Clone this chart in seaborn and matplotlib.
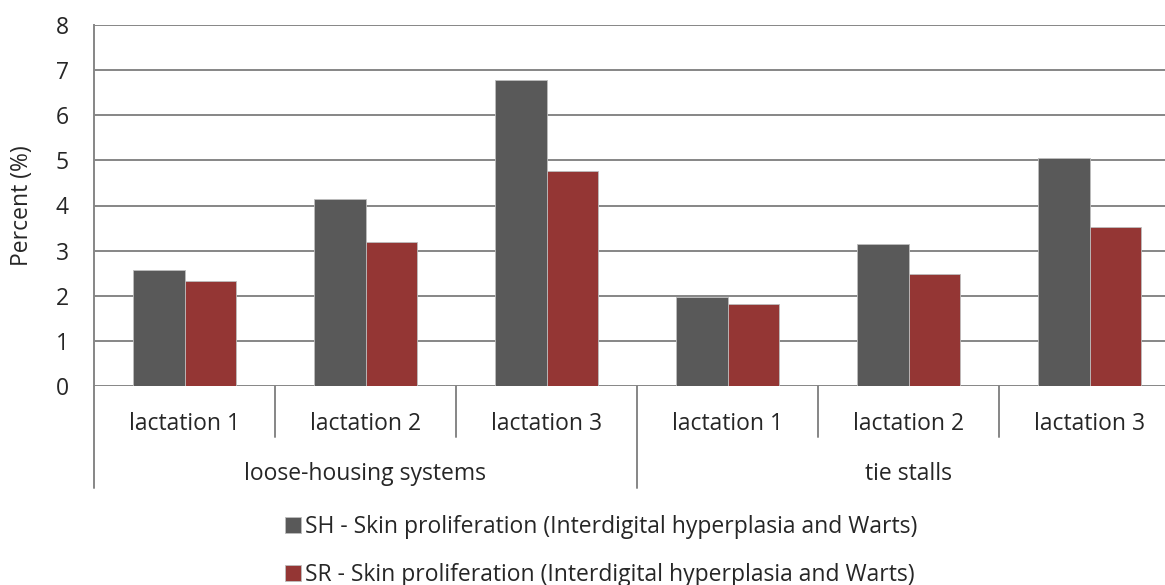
import pandas as pd
import matplotlib.pyplot as plt
import seaborn as sns

# data
housing = ['loose-housing systems', 'tie stalls']
lactations = ['lactation 1', 'lactation 2', 'lactation 3']
series = ['SH - Skin proliferation (Interdigital hyperplasia and Warts)',
          'SR - Skin proliferation (Interdigital hyperplasia and Warts)']
sh_values = [2.57, 4.15, 6.78, 1.97, 3.15, 5.05]
sr_values = [2.33, 3.19, 4.77, 1.82, 2.48, 3.52]

rows = []
for i, h in enumerate(housing):
    for j, lac in enumerate(lactations):
        k = i * 3 + j
        key = f'{h}|{lac}'
        rows.append({'cat': key, 'series': series[0], 'value': sh_values[k]})
        rows.append({'cat': key, 'series': series[1], 'value': sr_values[k]})
df = pd.DataFrame(rows)
order = [f'{h}|{lac}' for h in housing for lac in lactations]

sns.set_theme(style="white")
plt.rcParams['font.family'] = ['Open Sans', 'DejaVu Sans']
fs = 16.5

fig = plt.figure(figsize=(11.65, 5.85), dpi=100)
W, H = 1165, 585
ax = fig.add_axes([94 / W, 1 - 386 / H, (1180 - 94) / W, (386 - 25) / H])

grid_col = '#868686'
sns.barplot(data=df, x='cat', y='value', hue='series', order=order,
            palette=['#595959', '#943634'], saturation=1, width=0.57, ax=ax,
            edgecolor='#bdbdbd', linewidth=0.6, legend=True, zorder=3)

ax.set_ylim(0, 8)
ax.set_xlim(-0.5, 5.5)
ax.set_yticks(range(0, 9))
ax.yaxis.grid(True, color=grid_col, linewidth=1.4, zorder=0)
ax.set_axisbelow(True)
for s in ['top', 'right', 'bottom']:
    ax.spines[s].set_visible(False)
ax.spines['left'].set_color(grid_col)
ax.spines['left'].set_linewidth(1.4)
ax.tick_params(axis='y', length=8, color=grid_col, width=1.4, labelsize=fs, pad=10)
ax.tick_params(axis='x', length=0, labelsize=fs, pad=19)
ax.set_xticks(range(6))
ax.set_xticklabels([lac for h in housing for lac in lactations])
ax.set_xlabel('')
ax.set_ylabel('Percent (%)', fontsize=fs, labelpad=16)

# category dividers below the axis
tr = ax.get_xaxis_transform()
px = 1 / (386 - 25)
for b in range(7):
    x = b - 0.5
    depth = 102 if b % 3 == 0 else 51
    ax.plot([x, x], [0, -depth * px], transform=tr, color=grid_col,
            linewidth=1.4, clip_on=False)
for i, h in enumerate(housing):
    ax.text(i * 3 + 1, -88 * px, h, transform=tr, ha='center', va='center', fontsize=fs)

handles, labels = ax.get_legend_handles_labels()
ax.legend_.remove()
fig.legend(handles, labels, loc='upper center', bbox_to_anchor=(601 / W, 1 - 506 / H),
           frameon=False, fontsize=fs, handlelength=0.7, handleheight=0.7,
           handletextpad=0.2, labelspacing=1.05, borderaxespad=0)

fig.savefig('out.png', dpi=100)
